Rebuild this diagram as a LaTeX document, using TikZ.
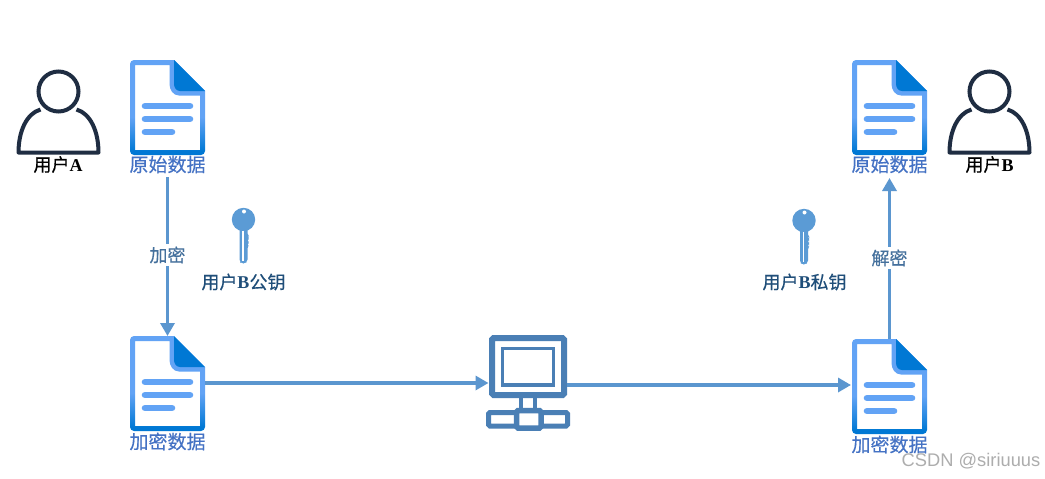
\documentclass[tikz,border=0pt]{standalone}
\usepackage{fontspec}
\setmainfont{Liberation Serif}
\newfontfamily\cjk[FakeBold=0.35]{Noto Sans CJK SC}
\newfontfamily\latb{Liberation Serif Bold}
\newfontfamily\wm{Liberation Sans}
\definecolor{dkblue}{HTML}{0078D4}
\definecolor{ltblue}{HTML}{62A3F5}
\pgfdeclareverticalshading{docshade}{100bp}{
  color(0bp)=(dkblue); color(27bp)=(dkblue); color(45bp)=(ltblue); color(100bp)=(ltblue)}
\definecolor{flow}{HTML}{5B96CF}
\definecolor{net}{HTML}{4A7FB5}
\definecolor{ink}{HTML}{1F2D42}
\definecolor{doclab}{HTML}{4472C4}
\definecolor{oplab}{HTML}{44709C}
\definecolor{keylab}{HTML}{1F4E79}
\definecolor{keyc}{HTML}{5B9BD5}
\usetikzlibrary{arrows.meta}
\tikzset{
  flowline/.style={draw=flow,line width=3.8pt,-{Triangle[length=13pt,width=14pt]}},
  doclabel/.style={font=\cjk\fontsize{19}{19}\selectfont,text=doclab,inner sep=0pt},
  userlabel/.style={font=\cjk\fontsize{18}{18}\selectfont,text=black,inner sep=0pt},
  keylabel/.style={font=\cjk\fontsize{18}{18}\selectfont,text=keylab,inner sep=0pt},
  oplabel/.style={font=\cjk\fontsize{18}{18}\selectfont,text=oplab,fill=white,inner sep=2.5pt},
  docicon/.pic={
    \shade[shading=docshade,even odd rule]
      (0,4) to[out=90,in=180,looseness=1] (4,0) -- (44,0) -- (75,31) -- (75,91)
      to[out=-90,in=0] (71,95) -- (4,95) to[out=180,in=-90] (0,91) -- cycle
      (5,5) -- (39.5,5) -- (39.5,24) to[out=-90,in=180] (49,35.5) -- (70,35.5) -- (70,90) -- (5,90) -- cycle;
    \fill[dkblue] (44,0) -- (75,31) -- (50,31) to[out=180,in=-90] (44,24) -- cycle;
    \foreach \yy/\xx in {46/60,59/60,72/42}
      \draw[ltblue,line width=6.6pt,line cap=round] (15,\yy) -- (\xx,\yy);
  },
  personicon/.pic={
    \draw[ink,line width=4pt,fill=white,line join=round]
      (-18,18) .. controls (-32,22) and (-40,40) .. (-40,61)
      -- (40,61) .. controls (40,40) and (32,22) .. (18,18);
    \draw[ink,line width=4pt,fill=white] (0,0) circle (20);
  },
  keyicon/.pic={
    \fill[keyc] (0,0) circle (11.7);
    \fill[white] (0.5,-8) circle (2);
    \fill[keyc,rounded corners=2pt] (-4,8) -- (4,8) -- (4,16) -- (5.5,17) -- (4,19) -- (5.5,21) -- (4,23) -- (5.5,25) -- (4,27) -- (4,42) -- (1.5,44) -- (-2,44) -- (-4,42) -- cycle;
    \draw[white,line width=1.6pt] (-0.7,11) -- (-0.7,41);
  },
  neticon/.pic={
    \draw[net,line width=6pt,rounded corners=1.5pt] (492,338) rectangle (564,395);
    \draw[net,line width=3.6pt] (502.5,348.5) rectangle (553.5,385);
    \draw[net,line width=4.5pt] (521,398) -- (521,410) (535,398) -- (535,410);
    \draw[net,line width=5pt,rounded corners=1.5pt] (488.5,412.5) rectangle (567.5,426);
    \draw[net,line width=5.5pt,fill=white,rounded corners=1.5pt] (516.5,410.5) rectangle (541,428);
  }
}
\begin{document}
\begin{tikzpicture}[x=1pt,y=-1pt]
\useasboundingbox[fill=white] (0,0) rectangle (1045,479);
% icons
\pic at (58.5,91.5) {personicon};
\pic at (989.5,91.5) {personicon};
\pic at (130,60) {docicon};
\pic at (130,336) {docicon};
\pic at (852,60) {docicon};
\pic at (852,339) {docicon};
\pic at (243.5,219.5) {keyicon};
\pic at (804,220.5) {keyicon};
\pic at (0,0) {neticon};
% anchors
\coordinate (srcbot) at (167.5,177);
\coordinate (enctop) at (167.5,336);
\coordinate (encright) at (205,383);
\coordinate (netleft) at (488.5,383);
\coordinate (netright) at (567,385);
\coordinate (decleft) at (851,385);
\coordinate (dectop) at (889.5,339);
\coordinate (dsttip) at (889.5,178);
% connectors
\draw[flowline] (srcbot) -- (enctop);
\draw[flowline] (encright) -- (netleft);
\draw[flowline] (netright) -- (decleft);
\draw[flowline] (dectop) -- (dsttip);
% labels
\node[oplabel] (enc) at (167.5,255) {加密};
\node[oplabel] (dec) at (889.5,258) {解密};
\node[userlabel] (ua) at (58,164.5) {用户{\latb A}};
\node[userlabel] (ub) at (989.5,164.5) {用户{\latb B}};
\node[doclabel] (d1) at (167.5,164.5) {原始数据};
\node[doclabel] (d2) at (889.5,164.5) {原始数据};
\node[doclabel] (d3) at (167.5,441.5) {加密数据};
\node[doclabel] (d4) at (889.5,444.5) {加密数据};
\node[keylabel] (k1) at (243.5,282) {用户{\latb B}公钥};
\node[keylabel] (k2) at (804.5,282) {用户{\latb B}私钥};
\node[font=\wm\fontsize{18.3}{18}\selectfont,text=black!32,inner sep=0pt] (wm) at (971,461.5) {CSDN @siriuuus};
\end{tikzpicture}
\end{document}
